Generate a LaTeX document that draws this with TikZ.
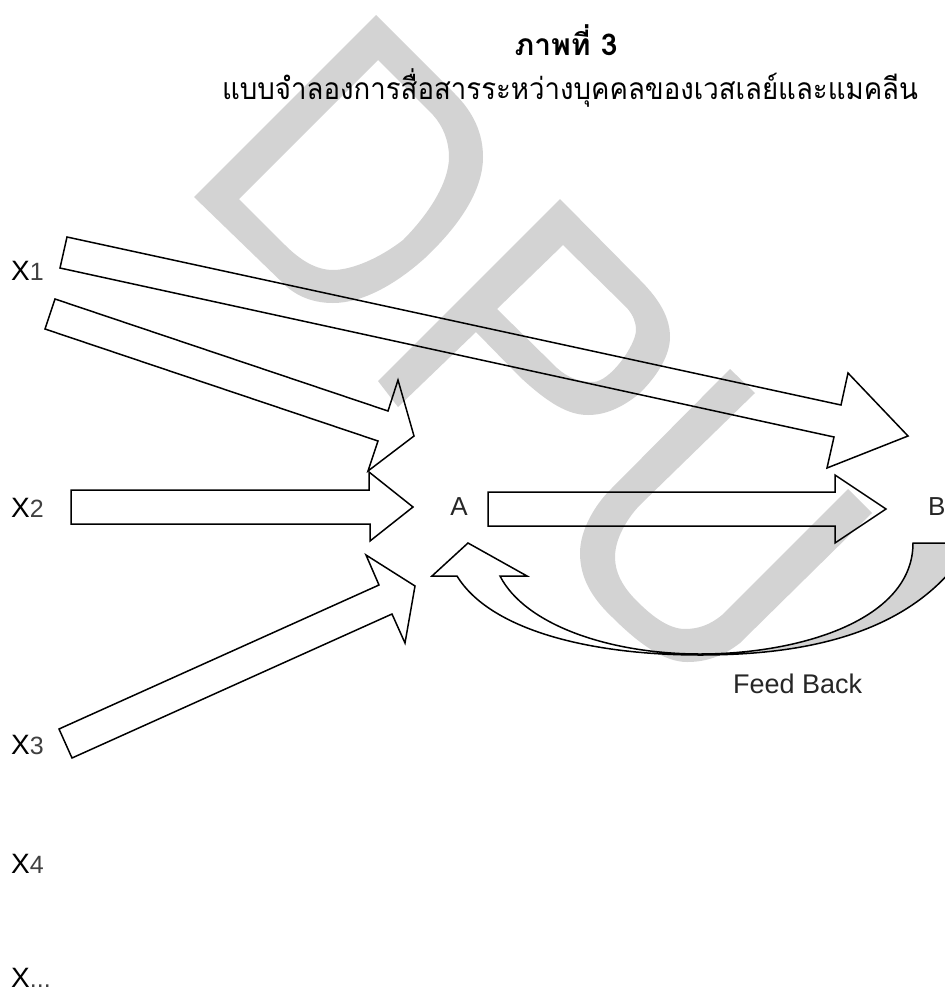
\documentclass[tikz,border=0pt]{standalone}
\usepackage{fontspec}
\setmainfont{Liberation Sans}
\newfontfamily\thaifont[Script=Thai]{Loma}
\newfontfamily\thaisub[Script=Thai,FakeStretch=0.92]{Loma}
\definecolor{wm}{HTML}{D3D3D3}
\newcommand{\xlabel}[1]{{\fontsize{28}{30}\selectfont X}{\fontsize{25}{30}\selectfont\color{black!75}#1}}
\tikzset{
  wmark/.style={fill=wm,draw=none,even odd rule},
  blockarrow/.style={draw=black,line width=1.5pt,line join=miter,miter limit=10},
  lbl/.style={inner sep=0pt,font=\fontsize{26}{30}\selectfont,text=black!85},
  xlbl/.style={inner sep=0pt,anchor=base west},
  thaititle/.style={inner sep=0pt,font=\thaisub\fontsize{30}{36}\selectfont},
}
\begin{document}
\begin{tikzpicture}[x=1pt,y=-1pt]
\useasboundingbox (0,0) rectangle (945,991);
% watermark D
\path[wmark] (194,197) -- (376,15) -- (455,94) .. controls (474,113) and (483,134) .. (483,157)
  .. controls (483,190) and (460,225) .. (425,258) .. controls (395,285) and (362,303) .. (333,303)
  .. controls (316,303) and (300,298) .. (287,287) -- cycle
  (239,199) -- (378,60) -- (433,115) .. controls (443,126) and (449,141) .. (449,157)
  .. controls (449,183) and (428,215) .. (403,240) .. controls (380,258) and (352,270) .. (333,270)
  .. controls (316,270) and (300,260) .. (285,245) -- cycle;
% watermark P
\path[wmark] (378,381) -- (560,199) -- (640,280) .. controls (660,300) and (670,318) .. (670,337)
  .. controls (670,355) and (658,375) .. (640,393) .. controls (622,408) and (605,415) .. (588,415)
  .. controls (568,415) and (548,403) .. (520,377) -- (476,332) -- (398,407) -- cycle
  (497,309) -- (563,245) -- (627,308) .. controls (633,315) and (636,322) .. (636,330)
  .. controls (636,345) and (610,382) .. (593,382) .. controls (580,382) and (568,378) .. (557,368) -- cycle;
% watermark U
\path[wmark] (730,369) -- (755,393) -- (640,505) .. controls (632,513) and (615,535) .. (615,557)
  .. controls (615,572) and (622,585) .. (633,597) .. controls (650,615) and (668,629) .. (685,629)
  .. controls (698,629) and (710,625) .. (722,615) -- (848,489) -- (872,513) -- (740,643)
  .. controls (722,657) and (705,662) .. (687,662) .. controls (665,662) and (640,645) .. (612,617)
  .. controls (592,598) and (580,578) .. (580,553) .. controls (580,530) and (595,505) .. (610,490) -- cycle;
% block arrows
\draw[blockarrow] (67,237) -- (841,405) -- (848,373) -- (908,436) -- (827,468) -- (834,437) -- (60,268) -- cycle;
\draw[blockarrow] (55,299) -- (388,411) -- (398,380) -- (414,436) -- (368,471) -- (378,441) -- (45,329) -- cycle;
\draw[blockarrow] (71,490) -- (369,490) -- (369,472) -- (413,507) -- (370,541) -- (370,524) -- (71,524) -- cycle;
\draw[blockarrow] (59,729) -- (379,585) -- (366,555) -- (415,586) -- (405,643) -- (392,614) -- (72,758) -- cycle;
\draw[blockarrow] (488,492) -- (835,492) -- (835,475) -- (886,509) -- (835,543) -- (835,526) -- (488,526) -- cycle;
% curved feedback arrow
\path[fill=wm] (700,654) .. controls (800,654) and (913,620) .. (913,543) -- (950,543) -- (950,572)
  .. controls (890,640) and (790,655) .. (700,655) -- cycle;
\draw[blockarrow] (950,543) -- (913,543) .. controls (913,620) and (800,654) .. (700,654)
  .. controls (610,654) and (525,625) .. (500,576) -- (527,576) -- (468,543) -- (432,576) -- (457,576)
  .. controls (490,630) and (590,655) .. (700,655) .. controls (790,655) and (890,640) .. (950,572);
% texts
\node[inner sep=0pt,font=\thaifont\bfseries\fontsize{30}{36}\selectfont] (title) at (566,40) {ภาพที่ 3};
\node[thaititle] (subtitle) at (570,88) {แบบจำลองการสื่อสารระหว่างบุคคลของเวสเลย์และแมคลีน};
\node[xlbl] (x1) at (11,280) {\xlabel{1}};
\node[xlbl] (x2) at (11,517) {\xlabel{2}};
\node[xlbl] (x3) at (11,754) {\xlabel{3}};
\node[xlbl] (x4) at (11,873) {\xlabel{4}};
\node[xlbl] (x5) at (11,987) {\xlabel{...}};
\node[lbl] (a) at (459,507) {A};
\node[lbl,anchor=west] (b) at (928,507) {B};
\node[lbl,font=\fontsize{27}{30}\selectfont,anchor=west] (fb) at (733,684) {Feed Back};
\end{tikzpicture}
\end{document}
